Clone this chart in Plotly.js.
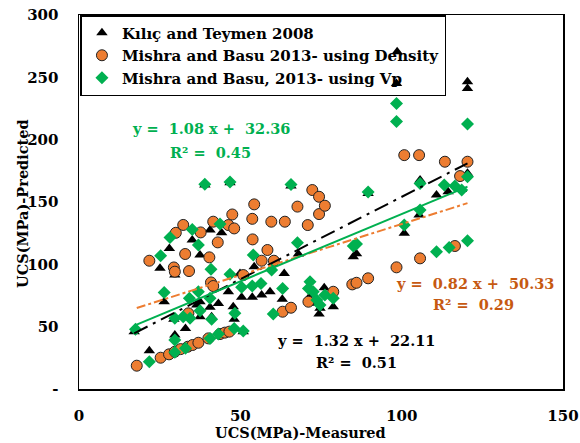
<!DOCTYPE html>
<html><head><meta charset="utf-8">
<script src="https://cdn.plot.ly/plotly-3.0.1.min.js"></script>
<style>html,body{margin:0;padding:0;background:#fff}#chart{width:580px;height:443px}</style>
</head><body><div id="chart"></div>
<script>
// Kılıç and Teymen 2008
var ktX = [17.1,21.8,25.1,26.4,28.0,29.7,29.4,29.7,33.0,35.1,36.5,37.5,37.5,37.5,39.0,40.6,40.6,41.1,43.2,44.2,46.3,46.8,47.8,48.1,49.9,50.4,50.9,53.7,54.3,56.6,59.2,63.0,63.6,65.7,68.0,71.9,72.6,74.7,74.4,76.0,78.8,85.0,86.0,89.6,98.4,98.6,100.8,105.4,105.7,110.8,114.4,118.5,120.4,120.4,120.4];
var ktY = [46,30.7,96.8,70,112.8,91.4,55.9,43.3,48.6,119.5,67.4,107.5,70,58,163.6,127.5,65.5,58,68.6,125.3,78,165.4,66,55.9,92.7,73.5,46,73.5,98.1,75.4,78,71.9,92.7,162.8,108.3,75.4,68.7,64.7,60.1,81.2,66,106.1,108.5,156.9,245,270.5,124.9,139.5,167.6,155.6,158.2,160,173,246.4,241];
// Mishra and Basu 2013 - using Density
var mdX = [17.9,21.8,25.3,27.9,29.7,29.4,29.7,30.0,31.5,32.3,32.9,33.7,33.9,34.1,35.2,37.0,37.7,40.1,40.4,40.9,41.6,41.6,43.0,43.7,45.2,46.3,46.6,47.5,48.1,50.9,53.7,53.8,54.3,56.6,58.4,59.6,60.4,63.1,63.8,65.7,67.7,70.9,71.1,72.3,74.4,74.4,76.2,78.8,84.7,86.0,89.6,98.4,100.8,105.4,105.7,113.4,116.5,118.1,120.4];
var mdY = [18.7,102.9,25.1,27.8,29.9,97.5,94.1,125.3,32,131.6,108.3,33.9,60.7,94.6,35.3,37.1,125.6,40.6,105.6,85.5,82.6,134.2,117.6,44.1,45.2,131.5,46,140,128.8,91.4,136.5,120,148.1,102.9,111.5,134.2,102.9,62,134.2,65.2,146.3,131.5,70,159.6,154.2,140.3,147,78,83.9,85.2,88.8,97.6,187.6,187.6,104.8,182.3,114.7,170.8,182.3];
// Mishra and Basu, 2013 - using Vp
var mvX = [17.5,21.8,25.3,26.4,28.2,29.7,29.7,29.7,32.3,33.0,34.2,34.4,35.1,37.0,37.0,37.5,39.0,40.6,40.6,40.9,41.1,43.2,43.7,46.8,46.8,48.1,48.3,50.4,50.9,53.7,54.0,56.4,59.7,60.2,63.1,65.7,67.7,71.6,71.1,72.6,73.7,74.7,76.2,78.8,85.0,86.0,89.6,98.4,98.4,100.8,105.7,105.7,110.8,113.2,114.7,116.5,118.6,120.4,120.4,120.4];
var mvY = [48,21.9,106.9,77.5,121.6,56.7,39.3,29.4,58,32.6,72.7,56.7,128,115.5,78,62.8,164.2,72.7,40.6,96,55.9,44.1,132.3,166,92,48.6,60.7,81.6,46.5,82.6,107.5,84.7,95.4,60.1,80.7,164,117.3,86,80.7,78,71.4,67.4,75.4,72.7,114.7,116.3,158,229,214.5,131.5,164.9,143.5,110.1,163.6,113.6,162.8,159.6,170.2,212.5,118.9];
var seriesNames = ["Kılıç and Teymen 2008","Mishra and Basu 2013- using Density","Mishra and Basu, 2013- using Vp"];
var slopes = [1.32, 0.82, 1.08];
var intercepts = [22.11, 50.33, 32.36];
var r2 = [0.51, 0.29, 0.45];
var xTicks = [0,50,100,150];
var yTicks = [0,50,100,150,200,250,300];
var yTickText = ["-","50","100","150","200","250","300"];
var xTitle = "UCS(MPa)-Measured";
var yTitle = "UCS(MPa)-Predicted";

function fitLine(xs, k){
  var lo = Math.min.apply(null, xs), hi = Math.max.apply(null, xs);
  return {x:[lo,hi], y:[slopes[k]*lo+intercepts[k], slopes[k]*hi+intercepts[k]]};
}
var F = "DejaVu Serif";
var lineBlack = fitLine(ktX,0), lineOr = fitLine(mdX,1), lineGr = fitLine(mvX,2);
var traces = [
 {x:ktX,y:ktY,mode:"markers",type:"scatter",name:"<b>"+seriesNames[0]+"</b>",marker:{symbol:"triangle-up",size:10,color:"#000"}},
 {x:mdX,y:mdY,mode:"markers",type:"scatter",name:"<b>"+seriesNames[1]+"</b>",marker:{symbol:"circle",size:11,color:"#ED7D31",line:{color:"#222",width:1}}},
 {x:mvX,y:mvY,mode:"markers",type:"scatter",name:"<b>"+seriesNames[2]+"</b>",marker:{symbol:"diamond",size:10,color:"#00B050"}},
 {x:lineBlack.x,y:lineBlack.y,mode:"lines",showlegend:false,line:{color:"#000",width:2,dash:"longdashdot"}},
 {x:lineOr.x,y:lineOr.y,mode:"lines",showlegend:false,line:{color:"#ED7D31",width:2,dash:"dashdot"}},
 {x:lineGr.x,y:lineGr.y,mode:"lines",showlegend:false,line:{color:"#00B050",width:2}}
];
function eqTxt(k){return "<b>y =  "+slopes[k].toFixed(2)+" x +  "+intercepts[k].toFixed(2)+"</b>";}
function r2Txt(k){return "<b>R² =  "+r2[k].toFixed(2)+"</b>";}
var EQ = 14.5;
function ann(x,y,t,c){return {x:x,y:y,xref:"x",yref:"y",xanchor:"center",yanchor:"middle",text:t,showarrow:false,font:{family:F,size:EQ,color:c}};}
var layout = {
  width:580,height:443,
  margin:{l:79,r:17,t:15,b:54},
  paper_bgcolor:"#fff",plot_bgcolor:"#fff",
  font:{family:F,color:"#000"},
  showlegend:true,
  xaxis:{range:[0,150],tickvals:xTicks,ticktext:xTicks.map(function(v){return "<b>"+v+"</b>";}),showgrid:false,zeroline:false,showline:true,mirror:true,linecolor:"#000",linewidth:1.5,ticks:"",
    tickfont:{family:F,size:15,color:"#000"},ticklabelstandoff:12},
  yaxis:{range:[0,300],tickvals:yTicks,ticktext:yTickText.map(function(v){return "<b>"+v+"</b>";}),showgrid:false,zeroline:false,showline:true,mirror:true,linecolor:"#000",linewidth:1.5,ticks:"",
    tickfont:{family:F,size:15,color:"#000"},ticklabelstandoff:16},
  legend:{x:0.003,y:1,xanchor:"left",yanchor:"top",bgcolor:"rgba(255,255,255,0)",bordercolor:"#000",borderwidth:1.5,
    font:{family:F,size:15,color:"#000"},tracegroupgap:0,itemwidth:30,entrywidth:302,entrywidthmode:"pixels"},
  annotations:[
    ann(40.9,209.3,eqTxt(2),"#00B050"), ann(40.6,190,r2Txt(2),"#00B050"),
    ann(85.8,39.3,eqTxt(0),"#000"), ann(86.1,20.9,r2Txt(0),"#000"),
    ann(122.7,85,eqTxt(1),"#C65911"), ann(122.4,67.4,r2Txt(1),"#C65911"),
    {x:0.457,y:-0.115,xref:"paper",yref:"paper",xanchor:"center",yanchor:"middle",text:"<b>"+xTitle+"</b>",showarrow:false,font:{family:F,size:14.5,color:"#000"}},
    {x:-0.118,y:0.497,xref:"paper",yref:"paper",xanchor:"center",yanchor:"middle",text:"<b>"+yTitle+"</b>",textangle:-90,showarrow:false,font:{family:F,size:14.5,color:"#000"}}
  ]
};
Plotly.newPlot("chart",traces,layout,{displayModeBar:false,staticPlot:true});
</script></body></html>
